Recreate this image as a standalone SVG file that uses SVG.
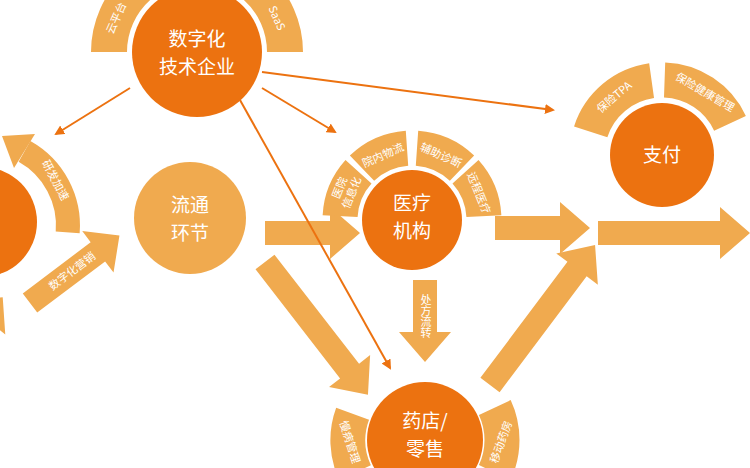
<svg xmlns="http://www.w3.org/2000/svg" width="750" height="468" viewBox="0 0 750 468">
<style>
.dk{fill:#ec7210}.lt{fill:#f0aa4f}
.pt{fill:none;stroke:#f0aa4f}
.t{font-family:"Noto Sans CJK SC","Liberation Sans",sans-serif;fill:#fff;text-anchor:middle}
.big{font-size:19px}.sm{font-size:11px}
.th{stroke:#ec7210;stroke-width:2;fill:none;marker-end:url(#ah)}
</style>
<defs>
<marker id="ah" markerWidth="10" markerHeight="10" refX="8" refY="5" orient="auto" markerUnits="userSpaceOnUse"><path d="M0,0 L10,5 L0,10 Z" fill="#ec7210"/></marker>
</defs>
<rect width="750" height="468" fill="#fff"/>
<g id="connectors">
<path class="lt" d="M265,221 H330 V207 L360,233 L330,259 V245 H265 Z"/>
<path class="lt" d="M495,216 H560 V202 L590,228 L560,254 V240 H495 Z"/>
<path class="lt" d="M598,221 H720 V207 L750,233 L720,259 V245 H598 Z"/>
<path class="lt" transform="translate(425,280) rotate(90)" d="M0,-12 H52 V-26 L82,0 L52,26 V12 H0 Z"/>
<path class="lt" transform="translate(265,262) rotate(52.2)" d="M0,-12 H138 V-26 L168,0 L138,26 V12 H0 Z"/>
<path class="lt" transform="translate(490,385) rotate(-53.1)" d="M0,-12 H145 V-26 L175,0 L145,26 V12 H0 Z"/>
<path class="lt" transform="translate(30,303) rotate(-37)" d="M0,-12 H85 V-26 L112,0 L85,26 V12 H0 Z"/>
<path class="lt" transform="translate(-50,360) rotate(-50)" d="M0,-12 H55 V-26 L82,0 L55,26 V12 H0 Z"/>
<path class="pt" stroke-width="24" d="M67.7,232.4 A85,85 0 0 0 24.5,151.4"/>
<path class="lt" d="M35,134 L2,136 L14,168 Z"/>
<path class="th" d="M130,88 L56,134"/>
<path class="th" d="M262,88 L335,132"/>
<path class="th" d="M262,72 L553,110"/>
<path class="th" d="M240,100 L390,368"/>
<text class="t sm" transform="translate(52,182) rotate(62)">研发加速</text>
<text class="t sm" transform="translate(72,271) rotate(-37)" dy="4">数字化营销</text>
<text class="t sm" font-size="10" x="426" y="316" style="writing-mode:vertical-rl;text-orientation:upright">处方流转</text>
</g>
<g id="left-node"><circle class="dk" cx="-18" cy="222" r="55"/></g>
<g id="digital">
<path class="pt" stroke-width="36" d="M109,52 A88,88 0 0 1 138.1,-13.4 M144,-18.3 A88,88 0 0 1 193.9,-35.9 M200.1,-35.9 A88,88 0 0 1 250,-18.3 M255.9,-13.4 A88,88 0 0 1 285,52"/>
<circle class="dk" cx="197" cy="52" r="65"/>
<text class="t sm" transform="translate(116,18) rotate(-66)" dy="4">云平台</text>
<text class="t sm" transform="translate(277,18) rotate(66)" dy="4">SaaS</text>
<text class="t big" x="197" y="46">数字化</text>
<text class="t big" x="197" y="74">技术企业</text>
</g>
<g id="liutong">
<circle class="lt" cx="190" cy="218" r="56"/>
<text class="t big" x="190" y="212">流通</text>
<text class="t big" x="190" y="240">环节</text>
</g>
<g id="hospital">
<path class="pt" stroke-width="35" d="M340.1,216.2 A72,72 0 0 1 358.5,171.8 M362,168.2 A72,72 0 0 1 407,148.2 M417,148.2 A72,72 0 0 1 462,168.2 M465.5,171.8 A72,72 0 0 1 483.9,216.2"/>
<circle class="dk" cx="412" cy="220" r="50"/>
<text class="t sm" transform="translate(345,190) rotate(-68)"><tspan x="0" y="-2">医院</tspan><tspan x="0" y="11">信息化</tspan></text>
<text class="t sm" transform="translate(383,155) rotate(-24)" dy="4">院内物流</text>
<text class="t sm" transform="translate(441,155) rotate(24)" dy="4">辅助诊断</text>
<text class="t sm" transform="translate(479,193) rotate(68)" dy="4">远程医疗</text>
<text class="t big" x="412" y="210">医疗</text>
<text class="t big" x="412" y="238">机构</text>
</g>
<g id="pay">
<path class="pt" stroke-width="35" d="M590.7,131.8 A75,75 0 0 1 651.6,80.7 M664.6,80 A75,75 0 0 1 730,123.3"/>
<circle class="dk" cx="662" cy="155" r="52"/>
<text class="t sm" transform="translate(614,97) rotate(-40)" dy="4">保险TPA</text>
<text class="t sm" transform="translate(705,92) rotate(30)" dy="4">保险健康管理</text>
<text class="t big" x="662" y="162">支付</text>
</g>
<g id="pharmacy">
<path class="pt" stroke-width="35" d="M355,472.6 A77,77 0 0 1 352.6,413.7 M494.8,407.5 A77,77 0 0 1 494.8,472.5"/>
<circle class="dk" cx="425" cy="440" r="58"/>
<text class="t sm" transform="translate(350,442) rotate(72)" dy="4">慢病管理</text>
<text class="t sm" transform="translate(501,442) rotate(-70)" dy="4">移动药房</text>
<text class="t big" x="425" y="428">药店/</text>
<text class="t big" x="425" y="456">零售</text>
</g>
</svg>
